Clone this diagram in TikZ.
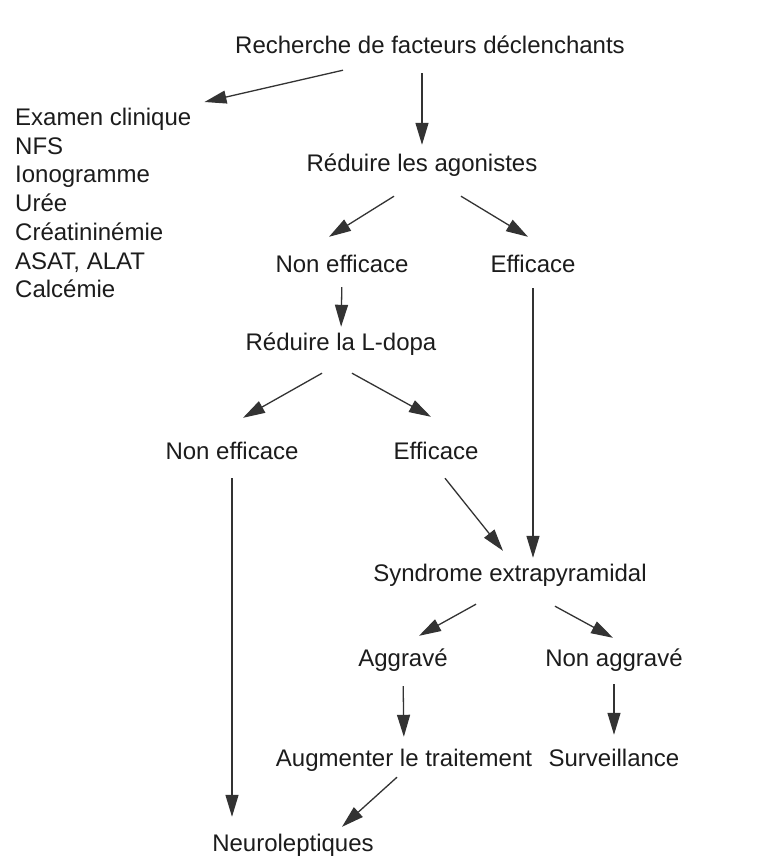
\documentclass[tikz,border=0pt]{standalone}
\usepackage{fontspec}
\setmainfont{Liberation Sans}
\usetikzlibrary{arrows.meta,calc}
\definecolor{ink}{HTML}{1C1C1C}
\tikzset{
  lbl/.style={font=\fontsize{24}{28.7}\selectfont, text=ink, inner sep=0pt, text height=17pt, text depth=5pt},
  listbox/.style={font=\fontsize{24}{28.7}\selectfont, text=ink, inner sep=0pt, align=left, anchor=north west},
  arrow/.style={-{Triangle[length=22pt,width=13pt]}, line width=1.3pt, draw=ink!90}
}
\begin{document}
\begin{tikzpicture}[x=1pt,y=-1pt]
  \useasboundingbox[fill=white] (0,0) rectangle (771,857);
  % levels from top to bottom
  \node[lbl] (title) at (430,47) {Recherche de facteurs déclenchants};
  \node[listbox] (exams) at (15,108) {Examen clinique\\NFS\\Ionogramme\\Urée\\Créatininémie\\ASAT, ALAT\\Calcémie};
  \node[lbl] (agon) at (422,165) {Réduire les agonistes};
  \node[lbl] (nonef1) at (342,266) {Non efficace};
  \node[lbl] (ef1) at (533,266) {Efficace};
  \node[lbl] (ldopa) at (341,344) {Réduire la L-dopa};
  \node[lbl] (nonef2) at (232,453) {Non efficace};
  \node[lbl] (ef2) at (436,453) {Efficace};
  \node[lbl] (synd) at (510,575) {Syndrome extrapyramidal};
  \node[lbl] (aggr) at (403,660) {Aggravé};
  \node[lbl] (nonaggr) at (614,660) {Non aggravé};
  \node[lbl] (augm) at (404,760) {Augmenter le traitement};
  \node[lbl] (surv) at (614,760) {Surveillance};
  \node[lbl] (neuro) at (293,845) {Neuroleptiques};
  % connectors
  \draw[arrow] ([shift={(-87,12)}]title.south) -- ([shift={(13,-6)}]exams.north east);
  \draw[arrow, shorten <=15pt, shorten >=9pt] (title.south -| agon) -- (agon.north);
  \draw[arrow] ([shift={(-28,20)}]agon.south) -- ([shift={(-13,-18)}]nonef1.north);
  \draw[arrow] ([shift={(39,20)}]agon.south) -- ([shift={(-5,-18)}]ef1.north);
  \draw[arrow, shorten <=10pt, shorten >=6pt] (nonef1.south) -- (ldopa.north);
  \draw[arrow, shorten <=11pt, shorten >=6pt] (ef1.south) -- (ef1.south |- synd.north);
  \draw[arrow] ([shift={(-19,18)}]ldopa.south) -- ([shift={(11,-24)}]nonef2.north);
  \draw[arrow] ([shift={(11,18)}]ldopa.south) -- ([shift={(-5,-25)}]ef2.north);
  \draw[arrow, shorten <=14pt, shorten >=17pt] (nonef2.south) -- (nonef2.south |- neuro.north);
  \draw[arrow] ([shift={(9,14)}]ef2.south) -- ([shift={(-7,-13)}]synd.north);
  \draw[arrow] ([shift={(-34,18)}]synd.south) -- ([shift={(16,-13)}]aggr.north);
  \draw[arrow] ([shift={(45,20)}]synd.south) -- ([shift={(-1,-11)}]nonaggr.north);
  \draw[arrow, shorten <=15pt, shorten >=12pt] (aggr.south) -- (augm.north);
  \draw[arrow, shorten <=13pt, shorten >=14pt] (nonaggr.south -| surv) -- (surv.north);
  \draw[arrow] ([shift={(-7,6)}]augm.south) -- ([shift={(49,-7)}]neuro.north);
\end{tikzpicture}
\end{document}
